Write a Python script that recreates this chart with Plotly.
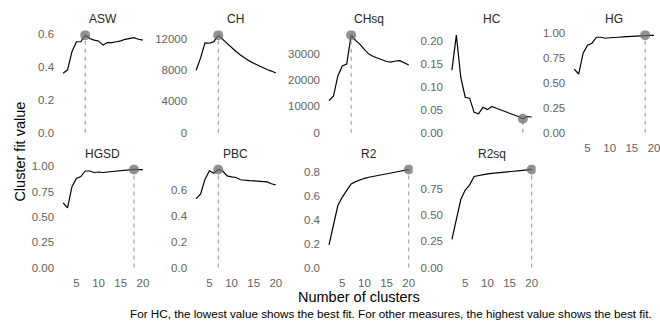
import plotly.graph_objects as go

# ---------------- data ----------------
clusters = list(range(2, 21))
measures = ["ASW", "CH", "CHsq", "HC", "HG", "HGSD", "PBC", "R2", "R2sq"]

asw = [0.36, 0.38, 0.49, 0.55, 0.55, 0.59, 0.57, 0.56, 0.555, 0.53, 0.545, 0.545, 0.55, 0.555, 0.565, 0.57, 0.575, 0.565, 0.56]
ch = [7950, 9500, 11450, 11400, 11600, 12430, 11900, 11350, 10850, 10350, 9900, 9500, 9150, 8850, 8550, 8300, 8050, 7850, 7600]
chsq = [12200, 13800, 21500, 25300, 26000, 37000, 35000, 33500, 31500, 29800, 28900, 28200, 27600, 27000, 26800, 27200, 27300, 26500, 25700]
hc = [0.136, 0.212, 0.120, 0.077, 0.075, 0.044, 0.041, 0.055, 0.050, 0.057, 0.053, 0.050, 0.046, 0.042, 0.039, 0.035, 0.030, 0.035, 0.034]
hg = [0.64, 0.59, 0.80, 0.88, 0.90, 0.96, 0.96, 0.95, 0.955, 0.955, 0.96, 0.963, 0.966, 0.969, 0.972, 0.975, 0.981, 0.979, 0.978]
hgsd = [0.64, 0.59, 0.80, 0.88, 0.90, 0.955, 0.955, 0.94, 0.945, 0.94, 0.945, 0.95, 0.954, 0.958, 0.962, 0.966, 0.970, 0.969, 0.968]
pbc = [0.535, 0.57, 0.685, 0.752, 0.733, 0.762, 0.75, 0.712, 0.705, 0.70, 0.682, 0.677, 0.675, 0.674, 0.673, 0.671, 0.666, 0.651, 0.641]
r2 = [0.19, 0.36, 0.52, 0.59, 0.65, 0.70, 0.72, 0.735, 0.748, 0.757, 0.765, 0.772, 0.779, 0.786, 0.793, 0.800, 0.807, 0.814, 0.822]
r2sq = [0.27, 0.47, 0.65, 0.74, 0.79, 0.87, 0.88, 0.89, 0.895, 0.90, 0.905, 0.909, 0.913, 0.917, 0.921, 0.925, 0.929, 0.933, 0.937]

series = [asw, ch, chsq, hc, hg, hgsd, pbc, r2, r2sq]

x_ticks = [5, 10, 15, 20]
y_ticks = {
    "ASW": ["0.0", "0.2", "0.4", "0.6"],
    "CH": ["0", "4000", "8000", "12000"],
    "CHsq": ["0", "10000", "20000", "30000"],
    "HC": ["0.00", "0.05", "0.10", "0.15", "0.20"],
    "HG": ["0.00", "0.25", "0.50", "0.75", "1.00"],
    "HGSD": ["0.00", "0.25", "0.50", "0.75", "1.00"],
    "PBC": ["0.0", "0.2", "0.4", "0.6"],
    "R2": ["0.0", "0.2", "0.4", "0.6", "0.8"],
    "R2sq": ["0.00", "0.25", "0.50", "0.75"],
}

x_label = "Number of clusters"
y_label = "Cluster fit value"
caption = "For HC, the lowest value shows the best fit. For other measures, the highest value shows the best fit."

# ---------------- layout geometry (pixels) ----------------
W, H = 660, 322
FONT = "Liberation Sans, Arial, sans-serif"
TICK_FONT = dict(family=FONT, size=11.5, color="#636363")
col_left = [59.3, 192.7, 326.0, 449.3, 572.0]
panel_w = 88.0
row_top = [26.7, 163.1]
row_bot = [135.6, 272.7]

fig = go.Figure()

xmin, xmax = min(clusters), max(clusters)
xpad = 0.05 * (xmax - xmin)

for i, (name, vals) in enumerate(zip(measures, series)):
    r, c = (0, i) if i < 5 else (1, i - 5)
    idx = "" if i == 0 else str(i + 1)
    xa, ya = "x" + idx, "y" + idx

    # best fit
    if name == "HC":
        k = vals.index(min(vals))
    else:
        k = vals.index(max(vals))
    bx, by = clusters[k], vals[k]

    fig.add_trace(go.Scatter(x=clusters, y=vals, mode="lines",
                             line=dict(color="black", width=1.2),
                             xaxis=xa, yaxis=ya, hoverinfo="skip"))
    fig.add_trace(go.Scatter(x=[bx, bx], y=[0, by], mode="lines",
                             line=dict(color="#9a9a9a", width=1.1, dash="4px,4px"),
                             xaxis=xa, yaxis=ya, hoverinfo="skip"))
    fig.add_trace(go.Scatter(x=[bx], y=[by], mode="markers",
                             marker=dict(color="rgba(110,110,110,0.75)", size=10, line=dict(width=0)),
                             xaxis=xa, yaxis=ya, hoverinfo="skip"))

    ymax = max(vals)
    yr = [-0.05 * ymax, 1.05 * ymax]
    tv = [float(t) for t in y_ticks[name]]

    x0 = col_left[c] / W
    x1 = min((col_left[c] + panel_w) / W, 1.0)
    y0 = 1 - row_bot[r] / H
    y1 = 1 - row_top[r] / H

    show_x = (r == 1) or (c == 4)
    fig.layout["xaxis" + idx] = dict(
        domain=[x0, x1], anchor=ya, range=[xmin - xpad, xmax + xpad],
        tickvals=x_ticks, ticktext=[str(t) for t in x_ticks],
        showticklabels=show_x, showgrid=False, zeroline=False, showline=False,
        ticks="", tickfont=TICK_FONT, ticklabeloverflow="allow",
        ticklabelstandoff=2, fixedrange=True)
    fig.layout["yaxis" + idx] = dict(
        domain=[y0, y1], anchor=xa, range=yr,
        tickvals=tv, ticktext=y_ticks[name],
        showgrid=False, zeroline=False, showline=False, ticks="",
        tickfont=TICK_FONT, ticklabelstandoff=4, fixedrange=True)

    # strip title
    fig.add_annotation(x=(col_left[c] + panel_w / 2) / W, y=1 - (row_top[r] - 11) / H,
                       xref="paper", yref="paper", text=name, showarrow=False,
                       xanchor="center", yanchor="middle",
                       font=dict(family=FONT, size=12, color="#262626"))

fig.add_annotation(x=20 / W, y=1 - 150 / H, xref="paper", yref="paper", text=y_label,
                   textangle=-90, showarrow=False, xanchor="center", yanchor="middle",
                   font=dict(family=FONT, size=14.5, color="black"))
fig.add_annotation(x=360 / W, y=1 - 298 / H, xref="paper", yref="paper", text=x_label,
                   showarrow=False, xanchor="center", yanchor="middle",
                   font=dict(family=FONT, size=14.5, color="black"))
fig.add_annotation(x=656 / W, y=1 - 314 / H, xref="paper", yref="paper", text=caption,
                   showarrow=False, xanchor="right", yanchor="middle",
                   font=dict(family=FONT, size=11.7, color="black"))

fig.update_layout(width=W, height=H, margin=dict(l=0, r=0, t=0, b=0),
                  paper_bgcolor="white", plot_bgcolor="white", showlegend=False)

fig.write_html("out.html")
